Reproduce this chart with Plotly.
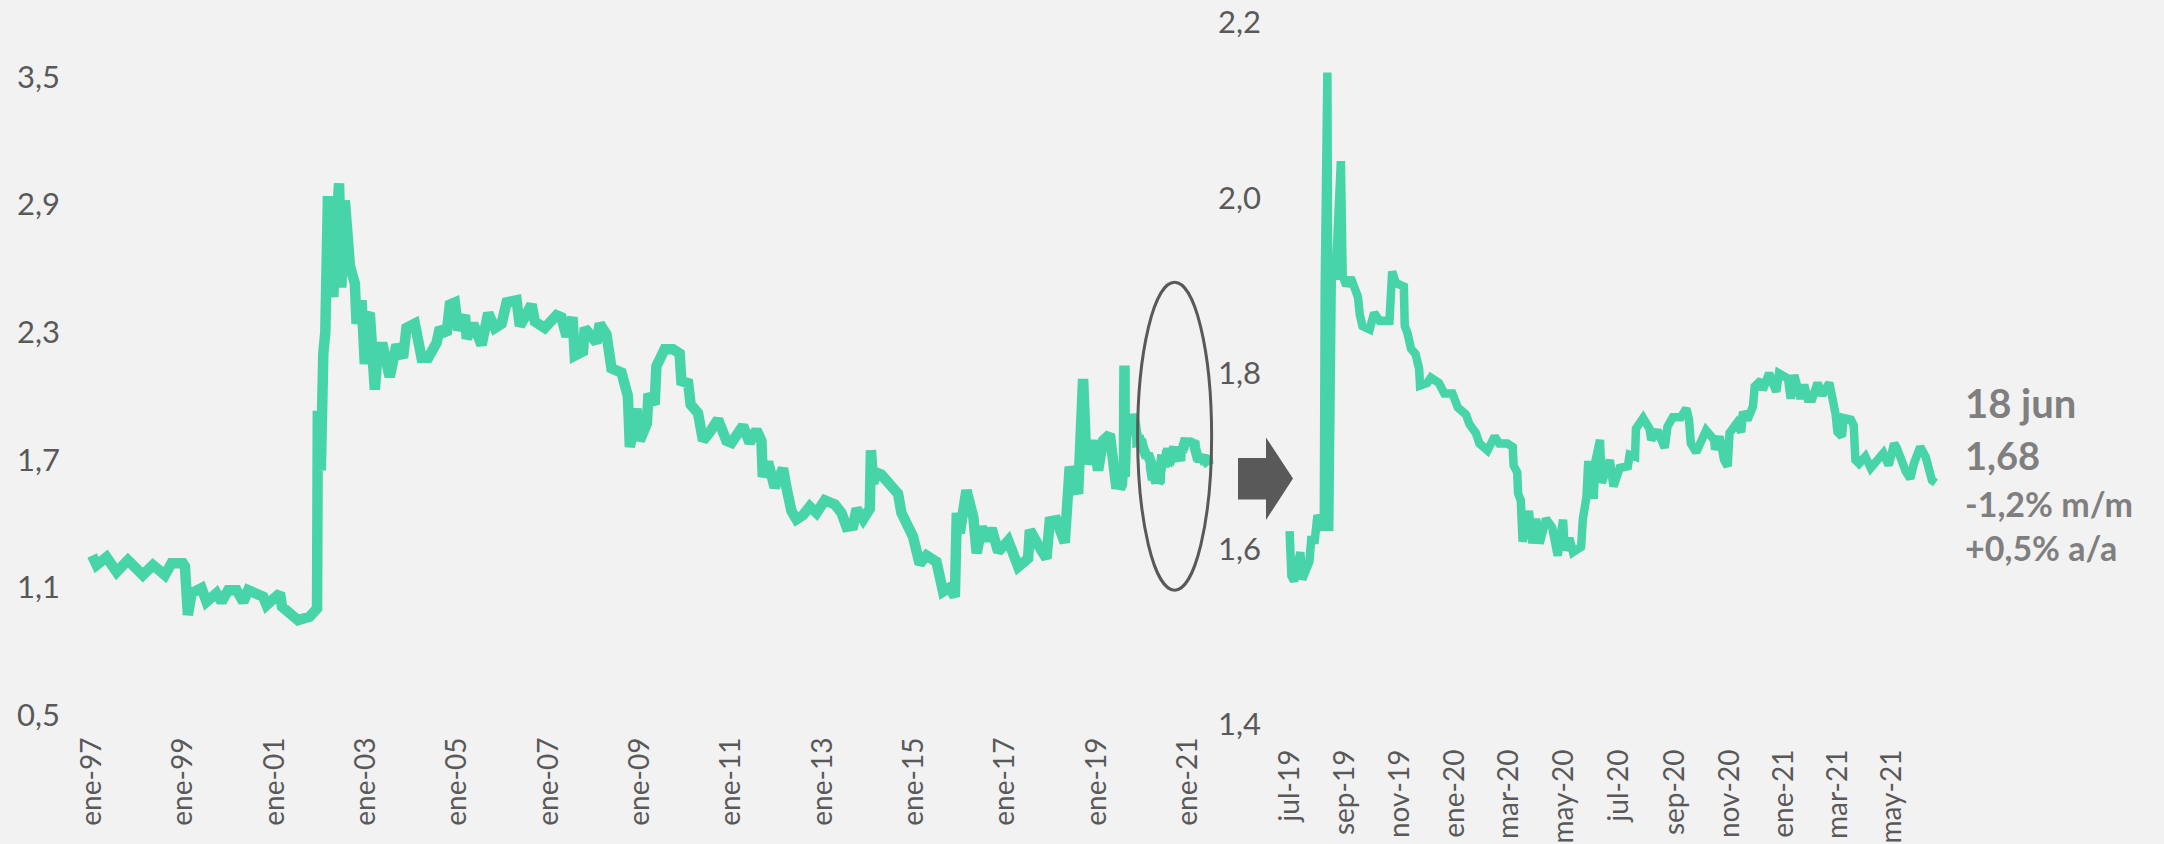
import plotly.graph_objects as go

W, H = 2164, 844
GREEN = "#48d4a9"
DARK = "#595959"
BG = "#f2f2f2"

# ---------------- data: long series (1997 - jun 2019) ----------------
left_dates = [
    "1997-01-02", "1997-02-07", "1997-04-27", "1997-07-17", "1997-10-15",
    "1998-02-12", "1998-05-03", "1998-08-07", "1998-09-29", "1998-12-29",
    "1999-01-14", "1999-01-22", "1999-02-07", "1999-03-08", "1999-05-27",
    "1999-07-06", "1999-09-24", "1999-11-03", "1999-12-26", "2000-03-03",
    "2000-04-25", "2000-06-03", "2000-10-01", "2000-10-28", "2001-02-12",
    "2001-03-01", "2001-05-16", "2001-07-07", "2001-10-08", "2001-12-06",
    "2001-12-12", "2002-01-05", "2002-01-25", "2002-02-10", "2002-03-03",
    "2002-03-20", "2002-04-15", "2002-05-05", "2002-05-31", "2002-06-18",
    "2002-07-16", "2002-08-12", "2002-08-26", "2002-10-04", "2002-10-18",
    "2002-11-27", "2002-12-23", "2003-01-19", "2003-02-01", "2003-03-13",
    "2003-04-08", "2003-05-18", "2003-07-10", "2003-09-02", "2003-10-25",
    "2003-11-21", "2004-01-27", "2004-03-21", "2004-05-13", "2004-07-19",
    "2004-08-14", "2004-10-07", "2004-11-02", "2004-12-12", "2005-01-08",
    "2005-03-03", "2005-03-17", "2005-05-08", "2005-07-14", "2005-09-05",
    "2005-10-28", "2005-12-21", "2006-01-30", "2006-04-20", "2006-05-16",
    "2006-06-25", "2006-08-18", "2006-09-13", "2006-12-01", "2007-03-05",
    "2007-04-14", "2007-05-24", "2007-07-11", "2007-07-29", "2007-10-03",
    "2007-10-17", "2008-01-19", "2008-02-14", "2008-04-08", "2008-05-18",
    "2008-08-06", "2008-09-26", "2008-10-04", "2008-10-12", "2008-12-04",
    "2008-12-30", "2009-02-25", "2009-03-10", "2009-04-28", "2009-05-12",
    "2009-07-17", "2009-09-22", "2009-11-14", "2009-11-28", "2010-01-21",
    "2010-02-10", "2010-04-10", "2010-05-20", "2010-07-13", "2010-09-17",
    "2010-11-23", "2011-01-03", "2011-04-05", "2011-05-28", "2011-07-21",
    "2011-08-30", "2011-09-10", "2011-10-22", "2011-12-14", "2012-02-19",
    "2012-03-17", "2012-04-26", "2012-06-05", "2012-07-28", "2012-09-20",
    "2012-11-13", "2013-01-18", "2013-04-09", "2013-06-01", "2013-07-11",
    "2013-09-02", "2013-09-29", "2013-11-21", "2014-01-13", "2014-01-22",
    "2014-02-09", "2014-03-07", "2014-04-16", "2014-08-27", "2014-09-23",
    "2014-12-24", "2015-02-16", "2015-04-11", "2015-06-30", "2015-08-22",
    "2015-10-15", "2015-11-24", "2015-12-10", "2016-01-03", "2016-02-25",
    "2016-04-20", "2016-05-17", "2016-06-25", "2016-08-04", "2016-09-13",
    "2016-11-05", "2017-01-24", "2017-04-14", "2017-07-02", "2017-07-16",
    "2017-09-20", "2017-11-26", "2017-12-22", "2018-02-14", "2018-04-21",
    "2018-05-05", "2018-05-31", "2018-08-06", "2018-08-25", "2018-09-15",
    "2018-10-12", "2018-12-04", "2019-01-13", "2019-02-22", "2019-04-17",
    "2019-05-13", "2019-06-09",
]
left_values = [
    1.25, 1.205, 1.242, 1.173, 1.228,
    1.158, 1.205, 1.158, 1.214, 1.214,
    1.20, 1.04, 0.97, 1.073, 1.097,
    1.032, 1.073, 1.032, 1.087, 1.087,
    1.032, 1.087, 1.056, 1.017, 1.073,
    1.009, 0.979, 0.946, 0.962, 1.001,
    1.93, 1.65, 2.20, 2.30, 2.94,
    2.60, 2.465, 2.75, 3.00, 2.51,
    2.92, 2.72, 2.61, 2.53, 2.34,
    2.45, 2.15, 2.38, 2.39, 2.03,
    2.23, 2.23, 2.09, 2.24, 2.18,
    2.32, 2.34, 2.18, 2.18, 2.25,
    2.32, 2.29, 2.43, 2.44, 2.31,
    2.38, 2.27, 2.34, 2.24, 2.39,
    2.32, 2.34, 2.44, 2.45, 2.33,
    2.37, 2.43, 2.35, 2.32, 2.38,
    2.37, 2.28, 2.37, 2.19, 2.21,
    2.32, 2.25, 2.34, 2.29, 2.13,
    2.11, 2.00, 1.81, 1.76, 1.94,
    1.79, 1.87, 2.01, 1.96, 2.14,
    2.22, 2.22, 2.20, 2.07, 2.06,
    1.96, 1.92, 1.79, 1.83, 1.89,
    1.79, 1.78, 1.86, 1.78, 1.84,
    1.79, 1.62, 1.69, 1.57, 1.66,
    1.57, 1.46, 1.42, 1.44, 1.48,
    1.45, 1.51, 1.49, 1.45, 1.385,
    1.39, 1.47, 1.42, 1.47, 1.745,
    1.59, 1.64, 1.63, 1.54, 1.45,
    1.34, 1.21, 1.25, 1.22, 1.08,
    1.10, 1.056, 1.45, 1.355, 1.557,
    1.43, 1.26, 1.385, 1.32, 1.377,
    1.267, 1.32, 1.197, 1.236, 1.37,
    1.30, 1.236, 1.41, 1.416, 1.31,
    1.573, 1.667, 1.54, 1.98, 2.08,
    1.68, 1.79, 1.65, 1.79, 1.82,
    1.667, 1.565,
]

# ---------------- data: recent series (jul 2019 - 18 jun 2021) ----------------
right_dates = [
    "2019-07-01", "2019-07-03", "2019-07-06", "2019-07-13", "2019-07-15",
    "2019-07-23", "2019-07-25", "2019-07-29", "2019-08-01", "2019-08-08",
    "2019-08-09", "2019-08-12", "2019-08-14", "2019-08-17", "2019-08-21",
    "2019-08-27", "2019-08-29", "2019-09-02", "2019-09-07", "2019-09-11",
    "2019-09-15", "2019-09-17", "2019-09-20", "2019-09-28", "2019-10-03",
    "2019-10-09", "2019-10-20", "2019-10-23", "2019-10-27", "2019-11-05",
    "2019-11-06", "2019-11-09", "2019-11-13", "2019-11-18", "2019-11-22",
    "2019-11-23", "2019-12-01", "2019-12-05", "2019-12-14", "2019-12-20",
    "2019-12-29", "2020-01-04", "2020-01-13", "2020-01-17", "2020-01-24",
    "2020-01-28", "2020-02-06", "2020-02-14", "2020-02-19", "2020-02-28",
    "2020-03-05", "2020-03-06", "2020-03-10", "2020-03-11", "2020-03-14",
    "2020-03-16", "2020-03-23", "2020-03-27", "2020-03-31", "2020-04-04",
    "2020-04-11", "2020-04-18", "2020-04-24", "2020-04-30", "2020-05-02",
    "2020-05-07", "2020-05-11", "2020-05-20", "2020-05-22", "2020-05-26",
    "2020-05-28", "2020-06-03", "2020-06-05", "2020-06-10", "2020-06-12",
    "2020-06-21", "2020-06-25", "2020-07-02", "2020-07-11", "2020-07-13",
    "2020-07-19", "2020-07-20", "2020-07-28", "2020-08-04", "2020-08-06",
    "2020-08-13", "2020-08-21", "2020-08-24", "2020-08-30", "2020-09-08",
    "2020-09-14", "2020-09-17", "2020-09-19", "2020-09-25", "2020-10-06",
    "2020-10-15", "2020-10-16", "2020-10-21", "2020-10-26", "2020-10-30",
    "2020-11-01", "2020-11-09", "2020-11-14", "2020-11-16", "2020-11-21",
    "2020-11-27", "2020-11-29", "2020-12-06", "2020-12-08", "2020-12-15",
    "2020-12-23", "2020-12-26", "2021-01-05", "2021-01-08", "2021-01-12",
    "2021-01-19", "2021-01-23", "2021-01-27", "2021-02-01", "2021-02-07",
    "2021-02-12", "2021-02-20", "2021-02-23", "2021-02-24", "2021-02-27",
    "2021-03-01", "2021-03-06", "2021-03-08", "2021-03-16", "2021-03-19",
    "2021-03-21", "2021-03-25", "2021-04-01", "2021-04-07", "2021-04-14",
    "2021-04-21", "2021-04-27", "2021-05-03", "2021-05-06", "2021-05-10",
    "2021-05-16", "2021-05-21", "2021-05-25", "2021-06-01", "2021-06-07",
    "2021-06-14", "2021-06-18",
]
right_values = [
    1.62, 1.569, 1.563, 1.596, 1.565,
    1.585, 1.61, 1.61, 1.638, 1.622,
    1.895, 2.143, 1.62, 1.92, 1.907,
    2.042, 1.911, 1.90, 1.909, 1.895,
    1.887, 1.867, 1.854, 1.85, 1.869,
    1.86, 1.86, 1.916, 1.903, 1.899,
    1.854, 1.846, 1.828, 1.822, 1.805,
    1.786, 1.789, 1.795, 1.789, 1.777,
    1.777, 1.761, 1.753, 1.742, 1.732,
    1.72, 1.712, 1.728, 1.72, 1.72,
    1.716, 1.695, 1.687, 1.663, 1.655,
    1.608, 1.643, 1.606, 1.634, 1.606,
    1.634, 1.624, 1.592, 1.633, 1.598,
    1.612, 1.596, 1.602, 1.634, 1.659,
    1.70, 1.657, 1.70, 1.724, 1.675,
    1.701, 1.671, 1.692, 1.694, 1.707,
    1.705, 1.737, 1.749, 1.737, 1.724,
    1.735, 1.715, 1.739, 1.75, 1.75,
    1.76, 1.747, 1.72, 1.71, 1.735,
    1.724, 1.713, 1.728, 1.701, 1.694,
    1.732, 1.743, 1.733, 1.756, 1.747,
    1.762, 1.785, 1.792, 1.781, 1.80,
    1.779, 1.80, 1.794, 1.771, 1.798,
    1.771, 1.787, 1.771, 1.771, 1.789,
    1.775, 1.789, 1.775, 1.762, 1.753,
    1.733, 1.728, 1.749, 1.747, 1.741,
    1.701, 1.697, 1.705, 1.692, 1.701,
    1.709, 1.695, 1.72, 1.715, 1.701,
    1.688, 1.68, 1.697, 1.716, 1.705,
    1.678, 1.675,
]

# ---------------- axes labels ----------------
left_ytickvals = [0.5, 1.1, 1.7, 2.3, 2.9, 3.5]
left_yticktext = ["0,5", "1,1", "1,7", "2,3", "2,9", "3,5"]
left_xtickvals = ["1997-01-01", "1999-01-01", "2001-01-01", "2003-01-01", "2005-01-01",
                  "2007-01-01", "2009-01-01", "2011-01-01", "2013-01-01", "2015-01-01",
                  "2017-01-01", "2019-01-01", "2021-01-01"]
left_xticktext = ["ene-97", "ene-99", "ene-01", "ene-03", "ene-05", "ene-07", "ene-09",
                  "ene-11", "ene-13", "ene-15", "ene-17", "ene-19", "ene-21"]
right_ytickvals = [1.4, 1.6, 1.8, 2.0, 2.2]
right_yticktext = ["1,4", "1,6", "1,8", "2,0", "2,2"]
right_xtickvals = ["2019-07-01", "2019-09-01", "2019-11-01", "2020-01-01", "2020-03-01",
                   "2020-05-01", "2020-07-01", "2020-09-01", "2020-11-01", "2021-01-01",
                   "2021-03-01", "2021-05-01"]
right_xticktext = ["jul-19", "sep-19", "nov-19", "ene-20", "mar-20", "may-20", "jul-20",
                   "sep-20", "nov-20", "ene-21", "mar-21", "may-21"]
label_lines = ["18 jun", "1,68", "-1,2% m/m", "+0,5% a/a"]

full_dates = left_dates + right_dates
full_values = left_values + right_values


def px(x):
    return x / W


def py(y):
    return 1 - y / H


xtickfont = dict(family="Lato", size=28, color=DARK)
ytickfont = dict(family="Lato", size=31, color=DARK)

fig = go.Figure()
fig.add_trace(go.Scatter(x=full_dates, y=full_values, mode="lines",
                         line=dict(color=GREEN, width=10.5), xaxis="x", yaxis="y",
                         hoverinfo="skip"))
fig.add_trace(go.Scatter(x=right_dates, y=right_values, mode="lines",
                         line=dict(color=GREEN, width=8.5), xaxis="x2", yaxis="y2",
                         hoverinfo="skip"))

common = dict(showgrid=False, zeroline=False, showline=False, ticks="",
              automargin=False, fixedrange=True)

fig.update_layout(
    width=W, height=H,
    margin=dict(l=0, r=0, t=0, b=0),
    paper_bgcolor=BG, plot_bgcolor=BG,
    showlegend=False,
    xaxis=dict(domain=[px(65), px(1215)], range=["1996-05-30", "2021-08-05"],
               tickmode="array", tickvals=left_xtickvals, ticktext=left_xticktext,
               tickangle=-90, ticklabelstandoff=16, anchor="y", tickfont=xtickfont,
               **common),
    yaxis=dict(domain=[py(715), py(77)], range=[0.5, 3.5],
               tickmode="array", tickvals=left_ytickvals, ticktext=left_yticktext,
               ticklabelstandoff=4, anchor="x", tickfont=ytickfont, **common),
    xaxis2=dict(domain=[px(1268), px(1949)], range=["2019-06-07", "2021-07-03"],
                tickmode="array", tickvals=right_xtickvals, ticktext=right_xticktext,
                tickangle=-90, ticklabelstandoff=19, anchor="y2", tickfont=xtickfont,
                **common),
    yaxis2=dict(domain=[py(724), py(22.6)], range=[1.4, 2.2],
                tickmode="array", tickvals=right_ytickvals, ticktext=right_yticktext,
                ticklabelstandoff=6, anchor="x2", tickfont=ytickfont, **common),
)

# ellipse highlighting the recent period on the long chart
fig.add_shape(type="circle", xref="x", yref="y",
              x0="2019-11-25", x1="2021-07-09", y0=1.087, y1=2.535,
              line=dict(color=DARK, width=3), fillcolor="rgba(0,0,0,0)", layer="above")

# block arrow between the two panels
arrow_pts = [(1238, 458), (1266, 458), (1266, 437.5), (1293, 478.5),
             (1266, 520), (1266, 499.5), (1238, 499.5)]
path = "M " + " L ".join(f"{px(x):.5f},{py(y):.5f}" for x, y in arrow_pts) + " Z"
fig.add_shape(type="path", xref="paper", yref="paper", path=path,
              fillcolor=DARK, line=dict(width=0))

# latest value text
line_y = [403, 455, 503, 547]
line_size = [40, 38, 34, 34]
for txt, yy, sz in zip(label_lines, line_y, line_size):
    fig.add_annotation(x=px(1963), y=py(yy), xref="paper", yref="paper",
                       text=txt, showarrow=False, xanchor="left", yanchor="middle",
                       font=dict(family="Lato", size=sz, color="#7f7f7f", weight="bold"))

fig.write_html("out.html", config={"displayModeBar": False},
               post_script="document.body.style.margin='0';document.body.style.overflow='hidden';")
